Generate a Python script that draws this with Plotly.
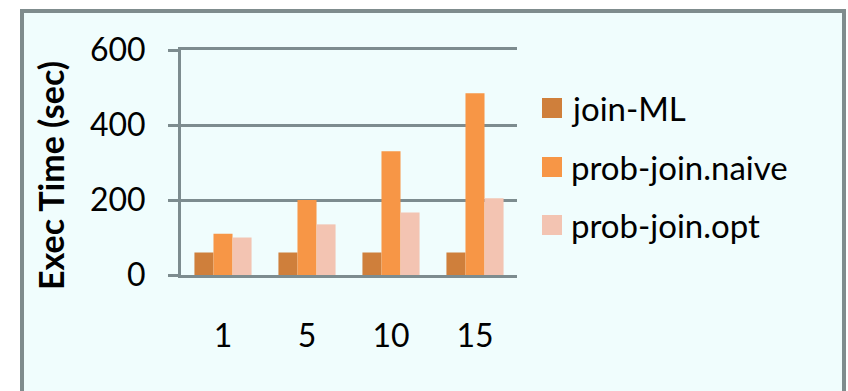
import plotly.graph_objects as go

categories = ["1", "5", "10", "15"]
series_names = ["join-ML", "prob-join.naive", "prob-join.opt"]
join_ml = [60, 60, 60, 60]
prob_join_naive = [110, 200, 330, 485]
prob_join_opt = [100, 135, 167, 205]
y_ticks = [0, 200, 400, 600]
colors = ["#cf7f3b", "#f79646", "#f3c4b2"]

W, H = 848, 391
L, R, T, B = 181, 517, 50, 275  # plot area in px


def px_x(px):
    return (px - L) / (R - L)


def px_y(py):
    return (B - py) / (B - T)


FONT = "Lato"
GRID = "#7d8c8f"

fig = go.Figure()
for name, vals, col in zip(series_names, [join_ml, prob_join_naive, prob_join_opt], colors):
    fig.add_trace(go.Bar(x=categories, y=vals, name=name, marker=dict(color=col, line=dict(width=0)),
                         showlegend=False))

shapes = [dict(type="rect", xref="paper", yref="paper", x0=px_x(22), x1=px_x(844), y0=px_y(420), y1=px_y(11),
               line=dict(color="#7f8c8d", width=4), fillcolor="#f0fdfd", layer="below")]
annotations = [dict(text="<b>Exec Time (sec)</b>", xref="paper", yref="paper", x=px_x(50), y=px_y(176),
                    textangle=-90, showarrow=False, xanchor="center", yanchor="middle",
                    font=dict(family=FONT, size=34, color="#000000"))]

legend_y = [108, 167, 225]
for name, col, ly in zip(series_names, colors, legend_y):
    shapes.append(dict(type="rect", xref="paper", yref="paper", x0=px_x(542), x1=px_x(562),
                       y0=px_y(ly + 10), y1=px_y(ly - 10), fillcolor=col, line=dict(width=0), layer="above"))
    annotations.append(dict(text=name, xref="paper", yref="paper", x=px_x(569), y=px_y(ly),
                            xanchor="left", yanchor="middle", showarrow=False,
                            font=dict(family=FONT, size=33, color="#000000")))

fig.update_layout(
    width=W, height=H, autosize=False,
    margin=dict(l=L, r=W - R, t=T, b=H - B, pad=0),
    paper_bgcolor="#ffffff", plot_bgcolor="rgba(0,0,0,0)",
    barmode="group", bargap=0.32, bargroupgap=0,
    font=dict(family=FONT, size=32, color="#000000"),
    shapes=shapes, annotations=annotations,
    xaxis=dict(showgrid=False, showline=True, mirror=True, linecolor=GRID, linewidth=3,
               ticks="", zeroline=False,
               tickfont=dict(family=FONT, size=32), ticklabelstandoff=31),
    yaxis=dict(range=[0, 600], tickvals=y_ticks, showgrid=True, gridcolor=GRID, gridwidth=3,
               showline=True, linecolor=GRID, linewidth=3, ticks="outside", ticklen=10,
               tickcolor=GRID, tickwidth=3, zeroline=False,
               tickfont=dict(family=FONT, size=32), ticklabelstandoff=16),
)

fig.write_html("out.html")
